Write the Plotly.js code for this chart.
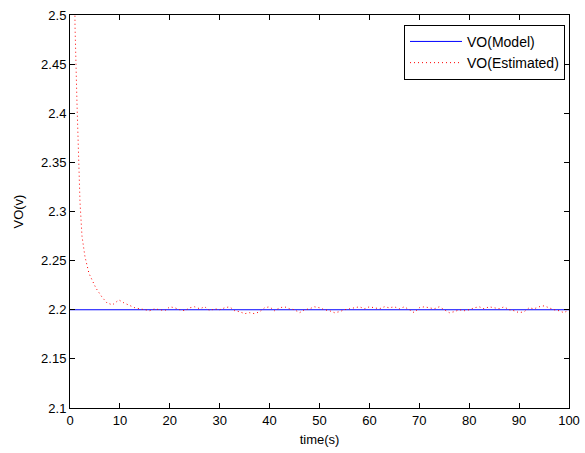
<!DOCTYPE html>
<html>
<head>
<meta charset="utf-8">
<script src="https://cdn.plot.ly/plotly-3.0.1.min.js"></script>
<style>html,body{margin:0;padding:0;background:#fff;}#chart{width:585px;height:453px;}</style>
</head>
<body>
<div id="chart"></div>
<script>
// Model output (constant)
const tModel = [0, 100];
const voModel = [2.2, 2.2];

// Estimated output: fast transient then small fluctuations around 2.2
const tEst = [0.5, 1.0, 1.4, 1.8, 2.0, 2.4, 3.0, 3.8, 4.5, 5.2, 6.4, 7.4, 8.5, 9.8, 10.8, 12, 13, 14,
  15, 16, 17, 18, 19, 20, 21, 22, 23, 24, 25, 26, 27, 28, 29, 30,
  31, 32, 33, 34, 35, 36, 37, 38, 39, 40, 41, 42, 43, 44, 45, 46, 47, 48, 49, 50,
  51, 52, 53, 54, 55, 56, 57, 58, 59, 60, 61, 62, 63, 64, 65, 66, 67, 68, 69, 70,
  71, 72, 73, 74, 75, 76, 77, 78, 79, 80, 81, 82, 83, 84, 85, 86, 87, 88, 89, 90,
  91, 92, 93, 94, 95, 96, 97, 98, 99, 100];
const voEst = [3.0, 2.49, 2.41, 2.35, 2.31, 2.275, 2.254, 2.237, 2.229, 2.222, 2.213, 2.207, 2.205, 2.21, 2.207, 2.204, 2.202, 2.201,
  2.2, 2.199, 2.201, 2.2, 2.199, 2.203, 2.202, 2.2, 2.199, 2.202, 2.203, 2.201, 2.203, 2.199, 2.201, 2.2,
  2.202, 2.203, 2.199, 2.198, 2.196, 2.197, 2.196, 2.198, 2.202, 2.203, 2.199, 2.202, 2.203, 2.201, 2.2, 2.197, 2.2, 2.201, 2.203, 2.202,
  2.2, 2.199, 2.197, 2.198, 2.2, 2.201, 2.202, 2.203, 2.201, 2.203, 2.202, 2.201, 2.203, 2.202, 2.203, 2.201, 2.203, 2.2, 2.197, 2.202,
  2.203, 2.202, 2.201, 2.203, 2.2, 2.197, 2.198, 2.2, 2.199, 2.2, 2.202, 2.203, 2.201, 2.203, 2.202, 2.201, 2.203, 2.2, 2.199, 2.197,
  2.198, 2.202, 2.201, 2.203, 2.204, 2.202, 2.2, 2.199, 2.197, 2.2];

const xTicks = [0, 10, 20, 30, 40, 50, 60, 70, 80, 90, 100];
const yTicks = [2.1, 2.15, 2.2, 2.25, 2.3, 2.35, 2.4, 2.45, 2.5];
const yTickText = ['2.1', '2.15', '2.2', '2.25', '2.3', '2.35', '2.4', '2.45', '2.5'];

const tickFont = {family: 'Liberation Sans, Arial, sans-serif', size: 13, color: '#000'};
const labelFont = {family: 'Liberation Sans, Arial, sans-serif', size: 13, color: '#000'};
const legendFont = {family: 'Liberation Sans, Arial, sans-serif', size: 14, color: '#000'};

const traces = [
  {x: tModel, y: voModel, mode: 'lines', name: 'VO(Model)',
   line: {color: '#0000ff', width: 1}},
  {x: tEst, y: voEst, mode: 'lines', name: 'VO(Estimated)',
   line: {color: '#ff0000', width: 1, dash: '1px,3px'}}
];

const axisCommon = {
  showgrid: false, zeroline: false, showline: true, linecolor: '#000', linewidth: 1,
  mirror: 'allticks', ticks: 'inside', ticklen: 5, tickcolor: '#000', tickwidth: 1,
  tickfont: tickFont
};

const layout = {
  width: 585, height: 453,
  paper_bgcolor: '#fff', plot_bgcolor: '#fff',
  margin: {l: 70, r: 16, t: 15, b: 45},
  showlegend: true,
  font: tickFont,
  xaxis: Object.assign({}, axisCommon, {
    range: [0, 100], tickmode: 'array', tickvals: xTicks,
    title: {text: 'time(s)', font: labelFont, standoff: 8}
  }),
  yaxis: Object.assign({}, axisCommon, {
    range: [2.1, 2.5], tickmode: 'array', tickvals: yTicks, ticktext: yTickText,
    title: {text: 'VO(v)', font: labelFont, standoff: 14}
  }),
  legend: {
    x: 0.992, y: 0.975, xanchor: 'right', yanchor: 'top',
    bgcolor: '#fff', bordercolor: '#000', borderwidth: 1,
    font: legendFont, itemwidth: 52, tracegroupgap: 0
  }
};

Plotly.newPlot('chart', traces, layout, {staticPlot: true, displayModeBar: false});
</script>
</body>
</html>
